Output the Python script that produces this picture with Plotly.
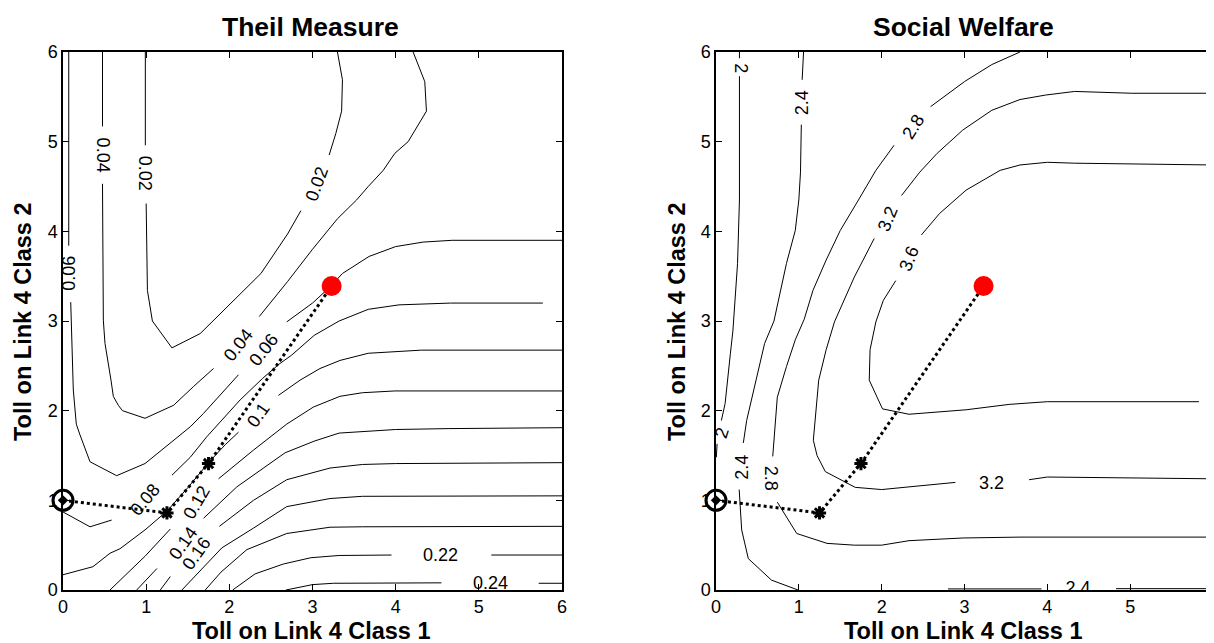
import plotly.graph_objects as go

# ---------------- Theil Measure: contour paths (None = gap for inline label)
theil_002_x = [0.99, 0.99, None, 1.0, 1.015, 1.075, 1.31, 1.65, 2.05, 2.38, 2.70, 2.86, None, 3.20, 3.28, 3.35, 3.36, 3.30]
theil_002_y = [6.0, 4.96, None, 4.31, 3.34, 3.0, 2.70, 2.86, 3.23, 3.53, 3.97, 4.23, None, 4.85, 5.09, 5.34, 5.69, 6.0]

theil_004_x = [0.475, 0.475, None, 0.475, 0.48, 0.485, 0.494, 0.505, 0.577, 0.605, 0.665, 0.715, 0.986, 1.33, 1.57, 1.81,
               None, 2.36, 2.70, 3.0, 3.30, 3.53, 3.67, 3.85, 3.99, 4.15, 4.37, 4.35, 4.21]
theil_004_y = [6.0, 5.17, None, 4.53, 3.68, 3.01, 2.89, 2.75, 2.34, 2.16, 2.06, 2.0, 1.915, 2.06, 2.27, 2.47,
               None, 3.05, 3.44, 3.80, 4.14, 4.35, 4.50, 4.68, 4.87, 5.0, 5.34, 5.67, 6.0]

theil_006_x = [0.069, 0.069, None, 0.093, 0.11, 0.124, 0.16, 0.204, 0.325, 0.645, 0.986, 1.29, 1.53, 1.69, 1.9, 2.11,
               None, 2.69, 3.0, 3.2, 3.36, 3.68, 4.0, 4.33, 4.68, 6.02]
theil_006_y = [6.0, 3.84, None, 3.21, 2.6, 2.23, 1.85, 1.73, 1.43, 1.275, 1.41, 1.64, 1.82, 1.97, 2.18, 2.40,
               None, 2.99, 3.2, 3.37, 3.53, 3.72, 3.83, 3.88, 3.9, 3.9]

theil_008_x = [0.0, 0.325, 0.585, None, 1.31, 1.53, 1.73, 2.13, 2.40, 2.60, 2.75, 3.02, 3.32, 3.67, 4.04, 4.66, 5.77]
theil_008_y = [0.87, 0.705, 0.78, None, 1.28, 1.48, 1.71, 2.12, 2.36, 2.52, 2.62, 2.84, 3.0, 3.13, 3.18, 3.2, 3.2]

theil_010_x = [0.0, 0.36, 0.565, 0.685, 0.986, 1.25, 1.5, 1.75, 1.95, 2.11, None, 2.59, 2.85, 3.09, 3.33, 3.67, 4.31, 6.0]
theil_010_y = [0.17, 0.26, 0.41, 0.46, 0.67, 0.88, 1.14, 1.42, 1.62, 1.76, None, 2.17, 2.34, 2.47, 2.56, 2.64, 2.675, 2.675]

theil_012_x = [0.565, 0.685, 0.99, 1.29, None, 1.87, 2.29, 2.69, 3.01, 3.33, 3.6, 3.99, 6.0]
theil_012_y = [0.0, 0.11, 0.38, 0.68, None, 1.24, 1.56, 1.85, 2.04, 2.16, 2.2, 2.22, 2.22]

theil_014_x = [0.886, 1.13, None, 1.69, 2.09, 2.67, 3.02, 3.32, 4.0, 4.64, 6.0]
theil_014_y = [0.0, 0.24, None, 0.80, 1.15, 1.53, 1.66, 1.75, 1.79, 1.80, 1.81]

theil_016_x = [1.17, 1.29, None, 1.88, 2.29, 2.69, 3.21, 3.6, 4.0, 6.0]
theil_016_y = [0.0, 0.15, None, 0.71, 1.0, 1.23, 1.36, 1.40, 1.41, 1.42]

theil_018_x = [1.43, 1.6, 1.91, 2.29, 2.69, 3.21, 3.6, 6.0]
theil_018_y = [0.0, 0.17, 0.47, 0.69, 0.93, 1.02, 1.045, 1.05]

theil_020_x = [1.71, 1.9, 2.21, 2.69, 3.21, 3.6, 6.0]
theil_020_y = [0.0, 0.2, 0.45, 0.63, 0.70, 0.705, 0.71]

theil_022_x = [2.04, 2.31, 2.65, 2.98, 3.32, 3.95, None, 5.15, 6.0]
theil_022_y = [0.0, 0.18, 0.29, 0.36, 0.385, 0.39, None, 0.39, 0.39]

theil_024_x = [2.68, 3.0, 3.25, 4.55, None, 5.72, 6.0]
theil_024_y = [0.0, 0.06, 0.075, 0.08, None, 0.075, 0.075]

theil_label_text = ["0.04", "0.02", "0.06", "0.02", "0.04", "0.06", "0.1", "0.08", "0.12", "0.14", "0.16", "0.22", "0.24"]
theil_label_x = [0.475, 0.99, 0.075, 3.05, 2.11, 2.41, 2.35, 0.986, 1.61, 1.45, 1.61, 4.54, 5.14]
theil_label_y = [4.85, 4.65, 3.53, 4.53, 2.73, 2.68, 1.95, 1.0, 0.98, 0.52, 0.41, 0.39, 0.075]
theil_label_angle = [90, 90, -90, -70, -52, -52, -55, -50, -60, -55, -55, 0, 0]

# ---------------- Social Welfare contour paths
sw_20_x = [0.283, 0.283, None, 0.283, 0.283, 0.26, 0.24, 0.204, 0.174, 0.11, 0.065, None, 0.013, 0.004]
sw_20_y = [6.0, 5.93, None, 5.73, 4.35, 3.64, 3.38, 2.89, 2.64, 2.08, 1.89, None, 1.63, 1.48]

sw_24_x = [1.057, 1.04, None, 1.03, 1.02, 1.0, 0.957, 0.85, 0.70, 0.587, 0.478, 0.37, 0.33,
           None, 0.28, 0.31, 0.39, 0.67, 0.99]
sw_24_y = [6.0, 5.69, None, 5.19, 4.66, 4.35, 4.01, 3.64, 3.0, 2.75, 2.30, 1.89, 1.64,
           None, 1.12, 0.67, 0.35, 0.11, 0.0]
sw_24b_x = [2.8, 3.93, None, 4.83, 6.0]
sw_24b_y = [0.012, 0.012, None, 0.015, 0.015]

sw_28_x = [3.67, 3.33, 3.0, 2.59, None, 2.15, 1.93, 1.72, 1.5, 1.33, 1.17, 1.065, 0.957, 0.85, 0.74, 0.685,
           None, 0.74, 0.85, 0.975, 1.34, 1.67, 2.0, 2.33, 2.98, 3.67, 6.0]
sw_28_y = [6.0, 5.86, 5.67, 5.39, None, 4.96, 4.68, 4.35, 4.01, 3.68, 3.34, 3.02, 2.79, 2.49, 2.15, 1.49,
           None, 0.98, 0.81, 0.63, 0.52, 0.50, 0.50, 0.55, 0.58, 0.59, 0.59]

sw_32_x = [6.0, 5.02, 4.33, 3.98, 3.67, 3.33, 2.98, 2.67, 2.46, 2.24, None, 1.91, 1.67, 1.43, 1.33, 1.24, 1.175, 1.22,
           1.32, 1.68, 2.0, 2.33, 2.89, None, 3.78, 4.0, 6.0]
sw_32_y = [5.54, 5.54, 5.56, 5.52, 5.47, 5.35, 5.13, 4.87, 4.66, 4.40, None, 3.92, 3.49, 2.99, 2.68, 2.34, 1.67, 1.50,
           1.32, 1.145, 1.12, 1.15, 1.20, None, 1.23, 1.26, 1.24]

sw_36_x = [6.0, 5.02, 4.33, 4.0, 3.67, 3.43, 3.02, 2.70, 2.48, None, 2.17, 2.02, 1.93, 1.86, 1.85, 1.93, 2.01, 2.33,
           3.02, 3.54, 4.0, 5.83]
sw_36_y = [4.74, 4.75, 4.76, 4.77, 4.74, 4.68, 4.46, 4.20, 3.96, None, 3.45, 3.23, 2.99, 2.68, 2.34, 2.17, 2.02, 1.96,
           2.01, 2.07, 2.10, 2.10]

sw_label_text = ["2", "2.4", "2.8", "3.2", "3.6", "2", "2.4", "2.8", "3.2"]
sw_label_x = [0.30, 1.04, 2.39, 2.07, 2.33, 0.07, 0.31, 0.66, 3.33]
sw_label_y = [5.82, 5.43, 5.17, 4.14, 3.69, 1.75, 1.37, 1.245, 1.19]
sw_label_angle = [90, -90, -58, -68, -68, -72, -90, 90, 0]
sw_edge_label_text = ["2.4"]
sw_edge_label_x = [4.37]
sw_edge_label_y = [0.005]

# ---------------- toll search path (same in both panels)
path_x = [0.0, 1.25, 1.75, 3.23]
path_y = [1.0, 0.86, 1.41, 3.39]

ticks = [0, 1, 2, 3, 4, 5, 6]

FONT = "Liberation Sans, Arial, Helvetica, sans-serif"
W, H = 1214, 643
OFF = 8  # the page body adds an 8 px margin around the figure
LABEL_SIZE = 18


def px(x):
    return (x - OFF) / W


def py(y):
    return 1 - (y - OFF) / H


fig = go.Figure()


def add_line(x, y, xa, ya):
    fig.add_trace(go.Scatter(x=x, y=y, mode="lines", line=dict(color="black", width=1),
                             xaxis=xa, yaxis=ya, hoverinfo="skip", showlegend=False))


for cx, cy in [(theil_002_x, theil_002_y), (theil_004_x, theil_004_y), (theil_006_x, theil_006_y),
               (theil_008_x, theil_008_y), (theil_010_x, theil_010_y), (theil_012_x, theil_012_y),
               (theil_014_x, theil_014_y), (theil_016_x, theil_016_y), (theil_018_x, theil_018_y),
               (theil_020_x, theil_020_y), (theil_022_x, theil_022_y), (theil_024_x, theil_024_y)]:
    add_line(cx, cy, "x", "y")

for cx, cy in [(sw_20_x, sw_20_y), (sw_24_x, sw_24_y), (sw_24b_x, sw_24b_y), (sw_28_x, sw_28_y),
               (sw_32_x, sw_32_y), (sw_36_x, sw_36_y)]:
    add_line(cx, cy, "x2", "y2")

for xa, ya in [("x", "y"), ("x2", "y2")]:
    fig.add_trace(go.Scatter(x=path_x, y=path_y, mode="lines",
                             line=dict(color="black", width=3, dash="dot"),
                             xaxis=xa, yaxis=ya, hoverinfo="skip", showlegend=False, cliponaxis=False))
    fig.add_trace(go.Scatter(x=path_x[1:3], y=path_y[1:3], mode="markers",
                             marker=dict(symbol="asterisk-open", size=11, color="black",
                                         line=dict(color="black", width=3)),
                             xaxis=xa, yaxis=ya, hoverinfo="skip", showlegend=False, cliponaxis=False))
    fig.add_trace(go.Scatter(x=path_x[:1], y=path_y[:1], mode="markers",
                             marker=dict(symbol="circle-open", size=20, color="black",
                                         line=dict(color="black", width=3)),
                             xaxis=xa, yaxis=ya, hoverinfo="skip", showlegend=False, cliponaxis=False))
    fig.add_trace(go.Scatter(x=path_x[:1], y=path_y[:1], mode="markers",
                             marker=dict(symbol="diamond", size=8, color="black"),
                             xaxis=xa, yaxis=ya, hoverinfo="skip", showlegend=False, cliponaxis=False))
    fig.add_trace(go.Scatter(x=path_x[3:], y=path_y[3:], mode="markers",
                             marker=dict(symbol="circle", size=20, color="#ff0000"),
                             xaxis=xa, yaxis=ya, hoverinfo="skip", showlegend=False, cliponaxis=False))

# contour label sitting on the bottom edge (clipped by the axes like the original)
fig.add_trace(go.Scatter(x=sw_edge_label_x, y=sw_edge_label_y, mode="text", text=sw_edge_label_text,
                         textposition="middle center", textfont=dict(family=FONT, size=LABEL_SIZE, color="black"),
                         xaxis="x2", yaxis="y2", hoverinfo="skip", showlegend=False, cliponaxis=True))

annotations = []
for t, x, y, a in zip(theil_label_text, theil_label_x, theil_label_y, theil_label_angle):
    annotations.append(dict(text=t, x=x, y=y, xref="x", yref="y", textangle=a, showarrow=False,
                            font=dict(family=FONT, size=LABEL_SIZE, color="black")))
for t, x, y, a in zip(sw_label_text, sw_label_x, sw_label_y, sw_label_angle):
    annotations.append(dict(text=t, x=x, y=y, xref="x2", yref="y2", textangle=a, showarrow=False,
                            font=dict(family=FONT, size=LABEL_SIZE, color="black")))

# titles and axis titles
title_font = dict(family=FONT, size=26.5, color="black")
axis_font = dict(family=FONT, size=23.5, color="black")
annotations += [
    dict(text="<b>Theil Measure</b>", x=px(310), y=py(27), xref="paper", yref="paper",
         showarrow=False, font=title_font, xanchor="center", yanchor="middle"),
    dict(text="<b>Social Welfare</b>", x=px(963), y=py(27), xref="paper", yref="paper",
         showarrow=False, font=title_font, xanchor="center", yanchor="middle"),
    dict(text="<b>Toll on Link 4 Class 1</b>", x=px(311), y=py(631), xref="paper", yref="paper",
         showarrow=False, font=axis_font, xanchor="center", yanchor="middle"),
    dict(text="<b>Toll on Link 4 Class 1</b>", x=px(963), y=py(631), xref="paper", yref="paper",
         showarrow=False, font=axis_font, xanchor="center", yanchor="middle"),
    dict(text="<b>Toll on Link 4 Class 2</b>", x=px(23), y=py(322), xref="paper", yref="paper",
         showarrow=False, font=axis_font, xanchor="center", yanchor="middle", textangle=-90),
    dict(text="<b>Toll on Link 4 Class 2</b>", x=px(677), y=py(322), xref="paper", yref="paper",
         showarrow=False, font=axis_font, xanchor="center", yanchor="middle", textangle=-90),
]

axis_common = dict(range=[0, 6], tickmode="array", tickvals=ticks, ticktext=[str(t) for t in ticks],
                   ticks="inside", ticklen=6, tickwidth=1, tickcolor="black",
                   showline=True, linecolor="black", linewidth=1.5, mirror="ticks",
                   showgrid=False, zeroline=False, automargin=False,
                   tickfont=dict(family=FONT, size=18, color="black"))

ydom = [py(590), py(52)]
fig.update_layout(
    template="none",
    width=W, height=H, autosize=False,
    margin=dict(l=0, r=0, t=0, b=0, pad=0),
    paper_bgcolor="white", plot_bgcolor="white",
    showlegend=False,
    font=dict(family=FONT, color="black"),
    xaxis=dict(domain=[px(63), px(562)], anchor="y", **axis_common),
    yaxis=dict(domain=ydom, anchor="x", **axis_common),
    xaxis2=dict(domain=[px(716), px(1213)], anchor="y2", **axis_common),
    yaxis2=dict(domain=ydom, anchor="x2", **axis_common),
    annotations=annotations,
)

fig.write_html("out.html")
